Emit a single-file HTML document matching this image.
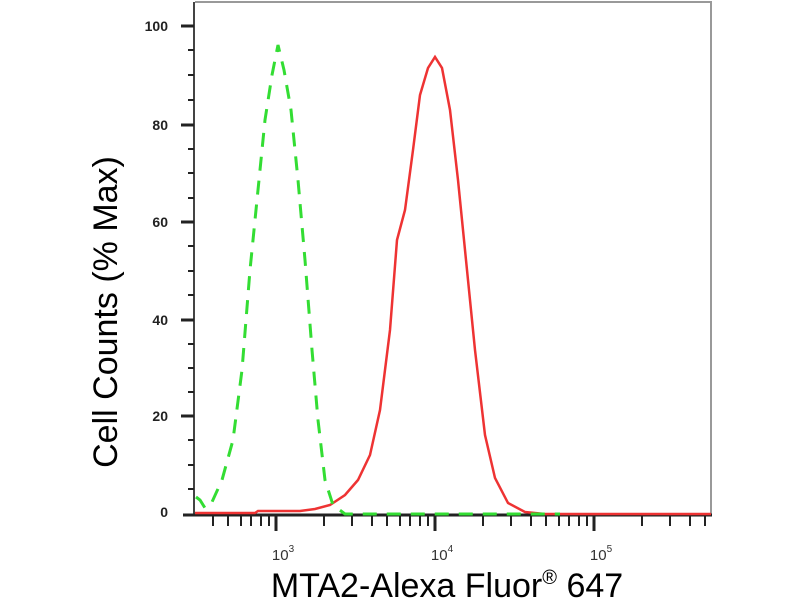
<!DOCTYPE html>
<html><head><style>body{margin:0;background:#fff}</style></head><body>
<svg width="800" height="600" xmlns="http://www.w3.org/2000/svg" font-family="Liberation Sans, sans-serif">
<rect width="800" height="600" fill="#fff"/>
<line x1="195" y1="2" x2="712" y2="2" stroke="#999" stroke-width="2"/>
<line x1="711" y1="2" x2="711" y2="516" stroke="#999" stroke-width="2"/>
<line x1="194" y1="2" x2="194" y2="516" stroke="#444" stroke-width="2"/>
<line x1="183" y1="515" x2="712" y2="515" stroke="#222" stroke-width="3"/>
<g stroke="#222" stroke-width="2">
<line x1="181" y1="26" x2="194" y2="26" stroke-width="3"/><line x1="181" y1="125" x2="194" y2="125" stroke-width="3"/>
<line x1="181" y1="222" x2="194" y2="222" stroke-width="3"/><line x1="181" y1="320" x2="194" y2="320" stroke-width="3"/>
<line x1="181" y1="416" x2="194" y2="416" stroke-width="3"/>
<line x1="188" y1="50" x2="194" y2="50"/><line x1="188" y1="75" x2="194" y2="75"/><line x1="188" y1="100" x2="194" y2="100"/>
<line x1="188" y1="149" x2="194" y2="149"/><line x1="188" y1="173" x2="194" y2="173"/><line x1="188" y1="198" x2="194" y2="198"/>
<line x1="188" y1="246" x2="194" y2="246"/><line x1="188" y1="271" x2="194" y2="271"/><line x1="188" y1="295" x2="194" y2="295"/>
<line x1="188" y1="344" x2="194" y2="344"/><line x1="188" y1="368" x2="194" y2="368"/><line x1="188" y1="392" x2="194" y2="392"/>
<line x1="188" y1="440" x2="194" y2="440"/><line x1="188" y1="465" x2="194" y2="465"/><line x1="188" y1="489" x2="194" y2="489"/>
</g>
<g font-size="14" fill="#222" font-weight="bold" text-anchor="end">
<text x="168" y="31">100</text><text x="168" y="130">80</text><text x="168" y="227">60</text>
<text x="168" y="325">40</text><text x="168" y="421">20</text><text x="168" y="517">0</text>
</g>
<g stroke="#222" stroke-width="2">
<line x1="213" y1="515" x2="213" y2="526"/><line x1="228" y1="515" x2="228" y2="526"/><line x1="241" y1="515" x2="241" y2="526"/><line x1="251" y1="515" x2="251" y2="526"/><line x1="261" y1="515" x2="261" y2="526"/><line x1="269" y1="515" x2="269" y2="526"/>
<line x1="276" y1="515" x2="276" y2="531" stroke-width="3"/>
<line x1="324" y1="515" x2="324" y2="526"/><line x1="352" y1="515" x2="352" y2="526"/><line x1="372" y1="515" x2="372" y2="526"/><line x1="387" y1="515" x2="387" y2="526"/><line x1="400" y1="515" x2="400" y2="526"/><line x1="410" y1="515" x2="410" y2="526"/><line x1="420" y1="515" x2="420" y2="526"/><line x1="428" y1="515" x2="428" y2="526"/>
<line x1="435" y1="515" x2="435" y2="531" stroke-width="3"/>
<line x1="483" y1="515" x2="483" y2="526"/><line x1="511" y1="515" x2="511" y2="526"/><line x1="531" y1="515" x2="531" y2="526"/><line x1="546" y1="515" x2="546" y2="526"/><line x1="559" y1="515" x2="559" y2="526"/><line x1="569" y1="515" x2="569" y2="526"/><line x1="579" y1="515" x2="579" y2="526"/><line x1="587" y1="515" x2="587" y2="526"/>
<line x1="594" y1="515" x2="594" y2="531" stroke-width="3"/>
<line x1="642" y1="515" x2="642" y2="526"/><line x1="670" y1="515" x2="670" y2="526"/><line x1="690" y1="515" x2="690" y2="526"/><line x1="705" y1="515" x2="705" y2="526"/>
</g>
<g font-size="15" fill="#333" text-anchor="middle">
<text x="283" y="560">10<tspan font-size="10" dy="-8">3</tspan></text>
<text x="442" y="560">10<tspan font-size="10" dy="-8">4</tspan></text>
<text x="601" y="560">10<tspan font-size="10" dy="-8">5</tspan></text>
</g>
<text transform="translate(117,312) rotate(-90)" font-size="34" text-anchor="middle" fill="#000">Cell Counts (% Max)</text>
<text x="447" y="597" font-size="34" text-anchor="middle" fill="#000">MTA2-Alexa Fluor<tspan font-size="20" dy="-13">®</tspan><tspan dy="13"> 647</tspan></text>
<path d="M195,513 L255,513 L258,511 L300,511 L315,509 L330,505 L345,495 L358,480 L370,455 L380,410 L390,330 L397,240 L405,210 L413,150 L420,95 L428,68 L435,57 L442,68 L450,110 L458,180 L466,260 L475,350 L485,435 L495,478 L508,503 L525,512 L545,514 L711,514" fill="none" stroke="#e33" stroke-width="2.5"/>
<path d="M196,497 L200,500 L205,508 L212,502 L222,480 L233,440 L242,370 L250,270 L257,200 L265,120 L272,75 L278,45 L284,70 L291,110 L298,180 L305,260 L312,350 L318,420 L325,480 L333,505 L345,514 L560,514" fill="none" stroke="#3d3" stroke-width="3" stroke-dasharray="14,10"/>
</svg>
</body></html>
